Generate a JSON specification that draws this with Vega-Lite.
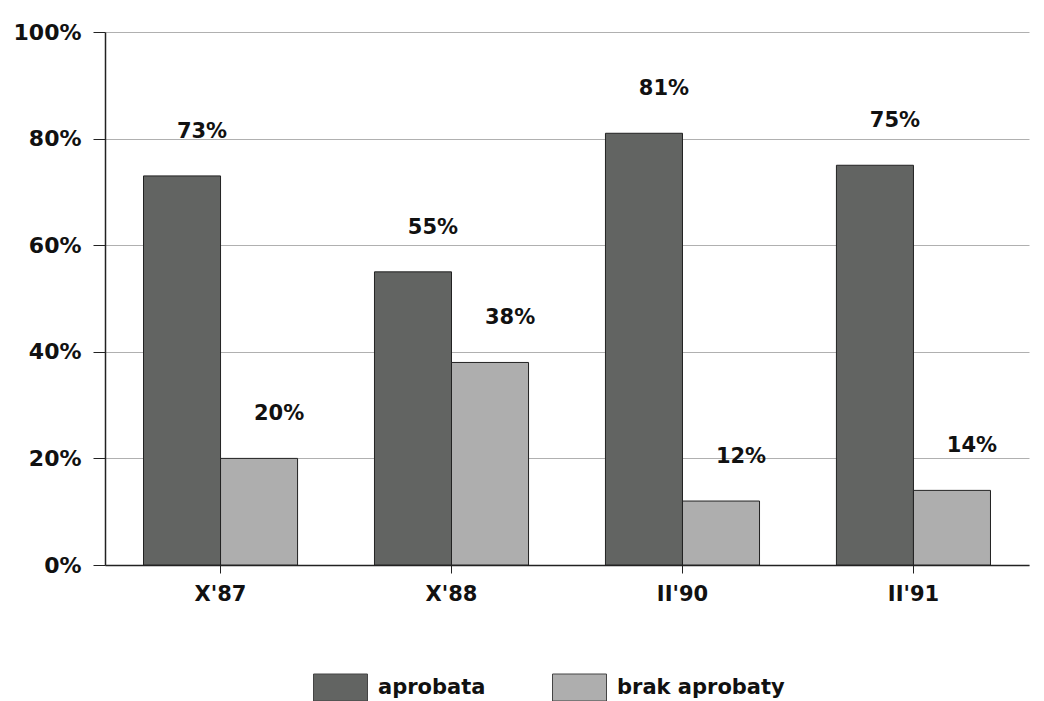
{
  "$schema": "https://vega.github.io/schema/vega-lite/v6.json",
  "autosize": {"type": "none"},
  "width": 924,
  "height": 533,
  "padding": {"left": 105, "top": 32, "right": 15, "bottom": 136},
  "background": "white",
  "data": {
    "values": [
      {"okres": "X'87", "seria": "aprobata", "wartosc": 73},
      {"okres": "X'87", "seria": "brak aprobaty", "wartosc": 20},
      {"okres": "X'88", "seria": "aprobata", "wartosc": 55},
      {"okres": "X'88", "seria": "brak aprobaty", "wartosc": 38},
      {"okres": "II'90", "seria": "aprobata", "wartosc": 81},
      {"okres": "II'90", "seria": "brak aprobaty", "wartosc": 12},
      {"okres": "II'91", "seria": "aprobata", "wartosc": 75},
      {"okres": "II'91", "seria": "brak aprobaty", "wartosc": 14}
    ]
  },
  "encoding": {
    "x": {
      "field": "okres", "type": "nominal", "sort": null,
      "scale": {"paddingInner": 0.333, "paddingOuter": 0.1667},
      "axis": {
        "title": null, "labelAngle": 0, "labelFontSize": 21, "labelFont": "DejaVu Sans",
        "labelFontWeight": "bold", "labelColor": "#111", "labelPadding": 10, "labelDx": -16,
        "tickSize": 8, "tickColor": "#222", "domainColor": "#222", "domainWidth": 1.5
      }
    },
    "xOffset": {"field": "seria", "type": "nominal", "sort": ["aprobata", "brak aprobaty"], "scale": {"paddingInner": 0}},
    "y": {
      "field": "wartosc", "type": "quantitative",
      "scale": {"domain": [0, 100]},
      "axis": {
        "title": null, "values": [0, 20, 40, 60, 80, 100], "labelExpr": "datum.value + '%'",
        "labelFontSize": 22, "labelFont": "DejaVu Sans", "labelFontWeight": "bold", "labelColor": "#111",
        "tickSize": 12, "tickColor": "#222", "labelPadding": 12, "domainColor": "#222", "domainWidth": 1.5,
        "grid": true, "gridColor": "#b0b0b0", "gridWidth": 1
      }
    }
  },
  "layer": [
    {
      "mark": {"type": "bar", "stroke": "#222", "strokeWidth": 1},
      "encoding": {
        "color": {
          "field": "seria", "type": "nominal",
          "scale": {"domain": ["aprobata", "brak aprobaty"], "range": ["#626462", "#aeaeae"]},
          "legend": {
            "title": null, "orient": "none", "direction": "horizontal",
            "legendX": 208, "legendY": 628,
            "symbolType": "M-1,-0.5H1V0.5H-1Z", "symbolSize": 2916,
            "symbolStrokeColor": "#444", "symbolStrokeWidth": 1,
            "labelFontSize": 21, "labelFont": "DejaVu Sans", "labelFontWeight": "bold", "labelColor": "#111",
            "labelOffset": 10, "columnPadding": 64, "labelLimit": 400
          }
        }
      }
    },
    {
      "mark": {
        "type": "text", "fontSize": 21, "font": "DejaVu Sans", "fontWeight": "bold", "color": "#111",
        "baseline": "middle", "dx": 20, "dy": -44,
        "text": {"expr": "datum.wartosc + '%'"}
      },
      "encoding": {}
    }
  ],
  "config": {"view": {"stroke": null}}
}
